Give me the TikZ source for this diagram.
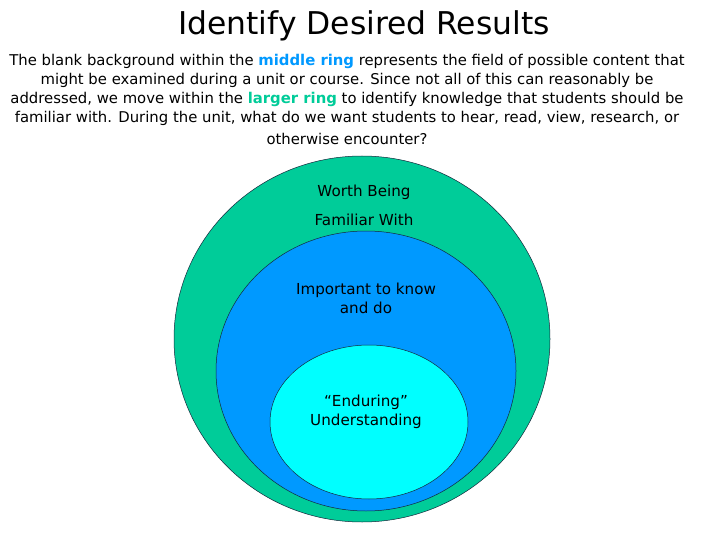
\documentclass[tikz,border=0pt]{standalone}
\usepackage{fontspec}
\setmainfont{DejaVu Sans}
\definecolor{ringgreen}{RGB}{0,204,153}
\definecolor{ringblue}{RGB}{0,153,255}
\definecolor{ringcyan}{RGB}{0,255,255}
\definecolor{darkline}{RGB}{20,40,60}
\tikzset{
  ring/.style={draw=darkline, line width=0.5pt},
  bodyline/.style={anchor=center, inner sep=0pt, font=\fontsize{14.9}{17}\selectfont},
  label/.style={align=center, inner sep=0pt, font=\fontsize{15.2}{19}\selectfont},
}
\begin{document}
\begin{tikzpicture}[x=1bp,y=-1bp]
\useasboundingbox[fill=white] (0,0) rectangle (720,540);
\node[font=\fontsize{31.5}{34}\selectfont, inner sep=0pt] (title) at (364,26) {Identify Desired Results};
\node[bodyline] (l1) at (347,61) {The blank background within the \textbf{\textcolor{ringblue}{middle ring}} represents the field of possible content that};
\node[bodyline] (l2) at (347,80) {might be examined during a unit or course. Since not all of this can reasonably be};
\node[bodyline] (l3) at (347,99) {addressed, we move within the \textbf{\textcolor{ringgreen}{larger ring}} to identify knowledge that students should be};
\node[bodyline] (l4) at (347,118) {familiar with. During the unit, what do we want students to hear, read, view, research, or};
\node[bodyline] (l5) at (347,139) {otherwise encounter?};
\draw[ring, fill=ringgreen] (362,339) ellipse [x radius=188, y radius=183];
\draw[ring, fill=ringblue] (366,371) ellipse [x radius=150, y radius=140];
\draw[ring, fill=ringcyan] (369,422) ellipse [x radius=99, y radius=77];
\node[label] (worth) at (364,192) {Worth Being};
\node[label] (fam) at (364,220) {Familiar With};
\node[label] (imp) at (366,298) {Important to know\\and do};
\node[label] (end) at (366,412) {“Enduring”\\Understanding};
\end{tikzpicture}
\end{document}
